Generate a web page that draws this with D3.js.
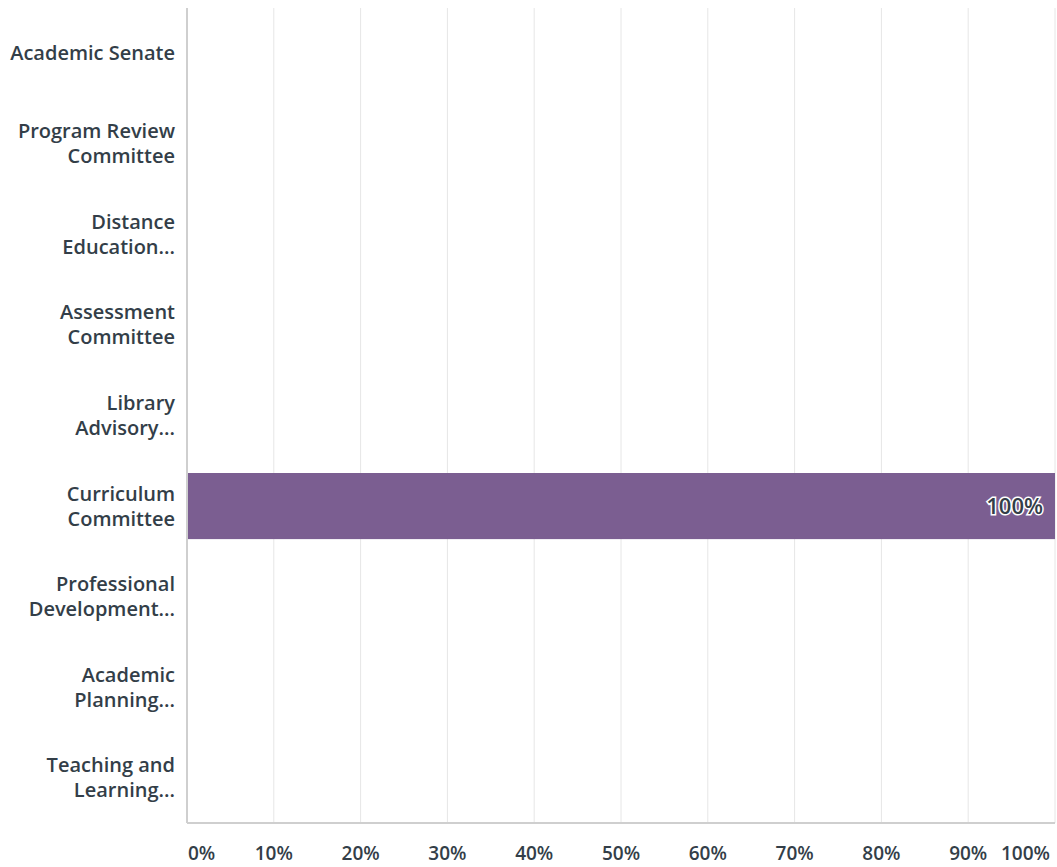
<!DOCTYPE html>
<html>
<head>
<meta charset="utf-8">
<script src="https://cdn.jsdelivr.net/npm/d3@7"></script>
<style>
  body { margin: 0; background: #fff; }
  text { font-family: "Open Sans", sans-serif; }
</style>
</head>
<body>
<div id="chart"></div>
<script>
// Data
const categories = [
  ["Academic Senate"],
  ["Program Review", "Committee"],
  ["Distance", "Education..."],
  ["Assessment", "Committee"],
  ["Library", "Advisory..."],
  ["Curriculum", "Committee"],
  ["Professional", "Development..."],
  ["Academic", "Planning..."],
  ["Teaching and", "Learning..."]
];
const values = [0, 0, 0, 0, 0, 1, 0, 0, 0];
const ticks = [0, 0.1, 0.2, 0.3, 0.4, 0.5, 0.6, 0.7, 0.8, 0.9, 1];

const W = 1057, H = 867;
const margin = {top: 8, right: 2, bottom: 44, left: 187};
const width = W - margin.left - margin.right,
      height = H - margin.top - margin.bottom;

const svg = d3.select("#chart").append("svg")
    .attr("width", W)
    .attr("height", H)
  .append("g")
    .attr("transform", `translate(${margin.left},${margin.top})`);

const keys = categories.map((d, i) => i);

const x = d3.scaleLinear().domain([0, 1]).range([0, width]);
const y = d3.scaleBand().domain(keys).range([0, height]).paddingInner(0.27).paddingOuter(0.135);
const yRow = d3.scaleBand().domain(keys).range([0, height]);

// Gridlines
svg.append("g")
   .selectAll("line")
   .data(ticks.slice(1))
   .enter()
   .append("line")
   .attr("x1", d => x(d))
   .attr("x2", d => x(d))
   .attr("y1", 0)
   .attr("y2", height)
   .attr("stroke", "#e6e6e6")
   .attr("stroke-width", 1);

// Bars
svg.append("g")
   .selectAll("rect")
   .data(values)
   .enter()
   .append("rect")
   .attr("x", 0)
   .attr("y", (d, i) => y(i))
   .attr("width", d => x(d))
   .attr("height", y.bandwidth())
   .attr("fill", "#7b5e91");

// Bar value labels
svg.append("g")
   .selectAll("text")
   .data(values.map((v, i) => ({v, i})).filter(d => d.v > 0))
   .enter()
   .append("text")
   .attr("x", d => x(d.v) - 12)
   .attr("y", d => y(d.i) + y.bandwidth() / 2)
   .attr("dy", "0.35em")
   .attr("text-anchor", "end")
   .style("font-size", "22px")
   .style("font-weight", 600)
   .attr("fill", "#333e48")
   .attr("stroke", "#fff")
   .attr("stroke-width", 3)
   .attr("paint-order", "stroke")
   .text(d => d3.format(".0%")(d.v));

// Axes lines
svg.append("line")
   .attr("x1", 0).attr("x2", 0)
   .attr("y1", 0).attr("y2", height)
   .attr("stroke", "#cfcfcf").attr("stroke-width", 2);
svg.append("line")
   .attr("x1", 0).attr("x2", width)
   .attr("y1", height).attr("y2", height)
   .attr("stroke", "#cfcfcf").attr("stroke-width", 2);

// X tick labels
svg.append("g")
   .selectAll("text")
   .data(ticks)
   .enter()
   .append("text")
   .attr("x", (d, i) => i === 0 ? x(d) + 1 : i === ticks.length - 1 ? x(d) - 5 : x(d))
   .attr("y", height + 37)
   .attr("text-anchor", (d, i) => i === 0 ? "start" : i === ticks.length - 1 ? "end" : "middle")
   .style("font-size", "19px")
   .style("font-weight", 600)
   .attr("fill", "#333e48")
   .text(d => d3.format(".0%")(d));

// Y category labels
const yl = svg.append("g")
   .selectAll("text")
   .data(categories)
   .enter()
   .append("text")
   .attr("text-anchor", "end")
   .style("font-size", "20px")
   .style("font-weight", 600)
   .attr("fill", "#333e48")
   .attr("transform", (d, i) => `translate(-12,${yRow(i) + yRow.bandwidth() / 2})`);

yl.selectAll("tspan")
  .data(d => d.map((t, j) => ({t, j, n: d.length})))
  .enter()
  .append("tspan")
  .attr("x", 0)
  .attr("y", d => (d.j - (d.n - 1) / 2) * 25)
  .attr("dy", "0.35em")
  .text(d => d.t);
</script>
</body>
</html>
